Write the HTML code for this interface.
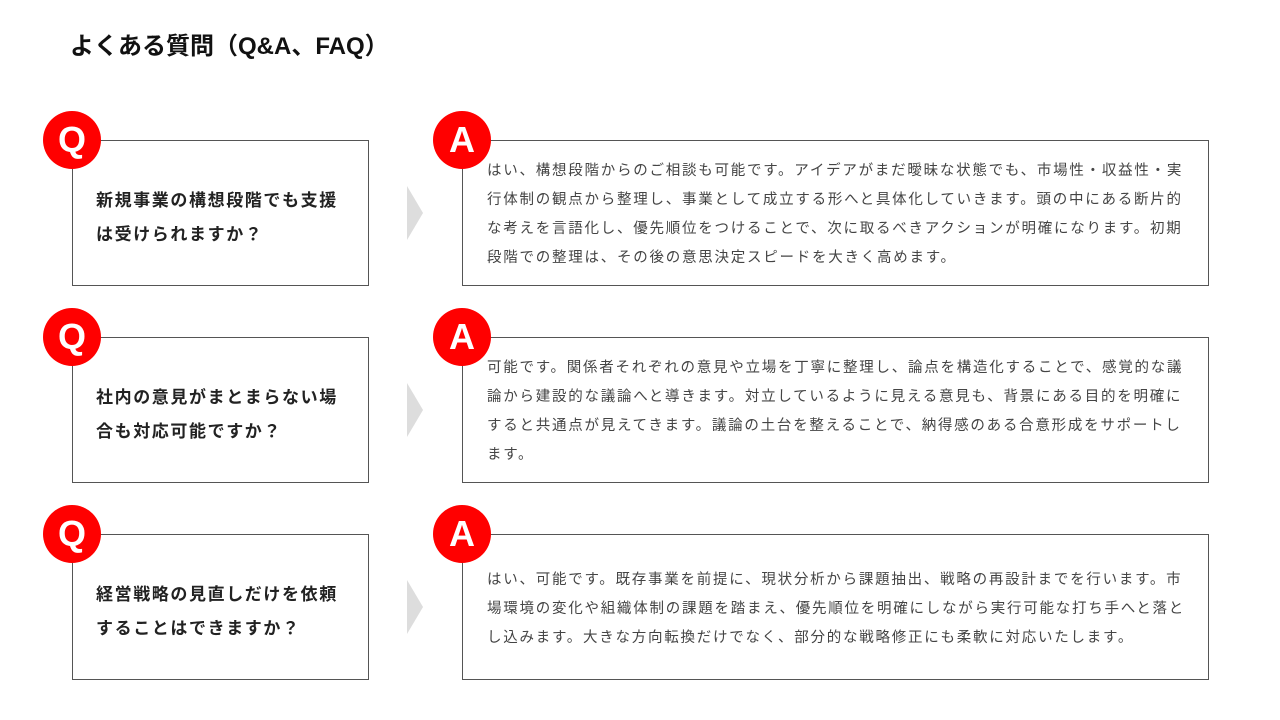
<!DOCTYPE html>
<html><head><meta charset="utf-8"><style>
body{margin:0;width:1280px;height:720px;background:#fff;font-family:"Liberation Sans","Noto Sans CJK JP",sans-serif;position:relative;overflow:hidden}
h1{position:absolute;left:70px;top:30px;margin:0;font-size:24px;font-weight:bold;color:#111;line-height:34px}
.q,.a{position:absolute;border:1.5px solid #555;box-sizing:border-box;display:flex;align-items:center;height:146px}
.q{left:72px;width:297px;padding:9px 20px 0 23px;font-size:17px;font-weight:bold;letter-spacing:1.6px;line-height:34px;color:#222}
.a{left:462px;width:747px;padding:4px 20px 0 24px;font-size:14.5px;letter-spacing:1.75px;line-height:29px;color:#444}
.c{position:absolute;width:58px;height:58px;border-radius:50%;background:#f00;color:#fff;font-weight:bold;font-size:36px;text-align:center;line-height:58px;font-family:"Liberation Sans",sans-serif}
.ch{position:absolute;left:407px;width:0;height:0;border-top:27px solid transparent;border-bottom:27px solid transparent;border-left:16px solid #ddd}
</style></head><body>
<h1>よくある質問（Q&amp;A、FAQ）</h1>

<div class="q" style="top:140px">新規事業の構想段階でも支援は受けられますか？</div>
<div class="ch" style="top:186px"></div>
<div class="a" style="top:140px">はい、構想段階からのご相談も可能です。アイデアがまだ曖昧な状態でも、市場性・収益性・実行体制の観点から整理し、事業として成立する形へと具体化していきます。頭の中にある断片的な考えを言語化し、優先順位をつけることで、次に取るべきアクションが明確になります。初期段階での整理は、その後の意思決定スピードを大きく高めます。</div>
<div class="c" style="left:43px;top:111px">Q</div>
<div class="c" style="left:433px;top:111px">A</div>

<div class="q" style="top:337px">社内の意見がまとまらない場合も対応可能ですか？</div>
<div class="ch" style="top:383px"></div>
<div class="a" style="top:337px">可能です。関係者それぞれの意見や立場を丁寧に整理し、論点を構造化することで、感覚的な議論から建設的な議論へと導きます。対立しているように見える意見も、背景にある目的を明確にすると共通点が見えてきます。議論の土台を整えることで、納得感のある合意形成をサポートします。</div>
<div class="c" style="left:43px;top:308px">Q</div>
<div class="c" style="left:433px;top:308px">A</div>

<div class="q" style="top:534px">経営戦略の見直しだけを依頼することはできますか？</div>
<div class="ch" style="top:580px"></div>
<div class="a" style="top:534px">はい、可能です。既存事業を前提に、現状分析から課題抽出、戦略の再設計までを行います。市場環境の変化や組織体制の課題を踏まえ、優先順位を明確にしながら実行可能な打ち手へと落とし込みます。大きな方向転換だけでなく、部分的な戦略修正にも柔軟に対応いたします。</div>
<div class="c" style="left:43px;top:505px">Q</div>
<div class="c" style="left:433px;top:505px">A</div>
</body></html>
